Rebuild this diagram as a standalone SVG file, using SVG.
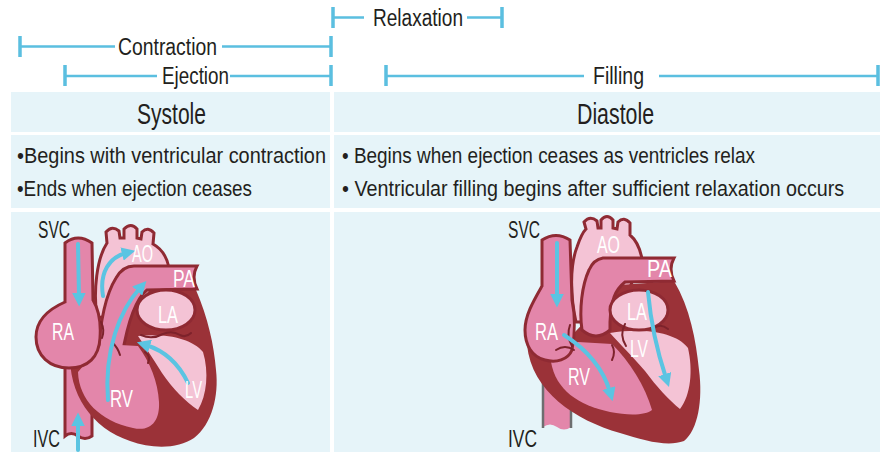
<svg xmlns="http://www.w3.org/2000/svg" width="892" height="460" viewBox="0 0 892 460">
<defs>
<style>
.t{font-family:"Liberation Sans Narrow","Liberation Sans",Arial,sans-serif;fill:#231f20;}
.w{font-family:"Liberation Sans Narrow","Liberation Sans",Arial,sans-serif;fill:#ffffff;font-size:23px;}
.cell{fill:#e6f4f9;}
.br{stroke:#5bbfe0;stroke-width:2.5;fill:none;}
.tk{stroke:#5bbfe0;stroke-width:3.5;fill:none;}
.dk{fill:#9b3238;}
.md{fill:#e386aa;stroke:#8f2a33;stroke-width:3;}
.lt{fill:#f4c3d5;stroke:#8f2a33;stroke-width:3;}
.v{fill:none;stroke:#7d222b;stroke-width:2;stroke-linecap:round;}
.ar{fill:none;stroke:#5bc4e2;stroke-width:4;stroke-linecap:round;marker-end:url(#ah);}
</style>
<marker id="ah" viewBox="0 0 10 10" refX="3" refY="5" markerWidth="3.4" markerHeight="3.4" orient="auto"><path d="M0,0 L10,5 L0,10 Z" fill="#5bc4e2"/></marker>
</defs>
<rect width="892" height="460" fill="#ffffff"/>

<g id="timeline">
  <g id="relaxation">
    <path class="tk" d="M333,7 V28 M502,7 V28"/>
    <path class="br" d="M333,17.5 H364 M467,17.5 H502"/>
    <text class="t" x="373" y="26" font-size="23" textLength="90" lengthAdjust="spacingAndGlyphs">Relaxation</text>
  </g>
  <g id="contraction">
    <path class="tk" d="M20,36 V57 M331,36 V57"/>
    <path class="br" d="M20,46.5 H115 M222,46.5 H331"/>
    <text class="t" x="118" y="55" font-size="23" textLength="99" lengthAdjust="spacingAndGlyphs">Contraction</text>
  </g>
  <g id="ejection">
    <path class="tk" d="M65,65 V86 M331,65 V86"/>
    <path class="br" d="M65,76 H157 M230,76 H331"/>
    <text class="t" x="162" y="84" font-size="23" textLength="67" lengthAdjust="spacingAndGlyphs">Ejection</text>
  </g>
  <g id="filling">
    <path class="tk" d="M386,65 V86 M878,65 V86"/>
    <path class="br" d="M386,76 H584 M659,76 H878"/>
    <text class="t" x="593" y="84" font-size="23" textLength="51" lengthAdjust="spacingAndGlyphs">Filling</text>
  </g>
</g>

<g id="cells">
  <rect class="cell" x="11" y="92" width="319" height="40"/>
  <rect class="cell" x="334" y="92" width="546" height="40"/>
  <rect class="cell" x="11" y="135" width="319" height="73"/>
  <rect class="cell" x="334" y="135" width="546" height="73"/>
  <rect class="cell" x="11" y="212" width="319" height="240"/>
  <rect class="cell" x="334" y="212" width="546" height="240"/>
</g>

<g id="systole-header">
  <text class="t" x="137" y="124" font-size="29" textLength="69" lengthAdjust="spacingAndGlyphs">Systole</text>
</g>
<g id="diastole-header">
  <text class="t" x="577" y="124" font-size="29" textLength="77" lengthAdjust="spacingAndGlyphs">Diastole</text>
</g>
<g id="systole-text">
  <text class="t" x="17" y="163" font-size="22" textLength="309" lengthAdjust="spacingAndGlyphs">•Begins with ventricular contraction</text>
  <text class="t" x="17" y="196" font-size="22" textLength="235" lengthAdjust="spacingAndGlyphs">•Ends when ejection ceases</text>
</g>
<g id="diastole-text">
  <text class="t" x="342" y="163" font-size="22" textLength="413" lengthAdjust="spacingAndGlyphs">• Begins when ejection ceases as ventricles relax</text>
  <text class="t" transform="translate(342,196) scale(0.9,1)" x="0" y="0" font-size="22" textLength="558" lengthAdjust="spacingAndGlyphs">• Ventricular filling begins after sufficient relaxation occurs</text>
</g>

<g id="heart-systole">
  <path class="lt" d="M97,318 C93,290 97,258 107,243 L106,232 Q112,225 119,231 L120,238 L124,238 L124,229 Q131,222 137,229 L137,238 L141,239 L142,232 Q148,226 154,233 L153,244 C162,249 167,257 169,268 L140,310 Z"/>
  <path class="md" d="M65,362 L65,436 Q71,431 78,436 Q85,441 92,436 L92,362"/>
  <path class="dk" d="M70,350 C68,395 92,428 130,441 C152,449 178,449 194,438 C212,424 219,396 216,370 C214,345 208,318 196,290 L150,290 L100,338 Z"/>
  <path fill="#f4c3d5" d="M138,336 C165,333 192,338 203,352 C209,372 207,395 198,410 C186,402 172,388 162,373 C154,360 146,348 138,336 Z"/>
  <path class="md" d="M98,356 C100,322 106,294 116,278 C120,271 126,266 134,266 L197,266 Q191,277 197,289 L147,290 C137,298 128,320 122,356 Z"/>
  <path fill="#e386aa" d="M78,372 C79,400 100,421 133,428 C150,432 160,422 159,402 C158,382 150,362 138,346 L102,344 Z"/>
  <path class="md" d="M65,243 Q78,233 92,243 L93,300 C99,310 101,324 100,338 C99,357 88,368 69,368 C50,368 36,356 36,337 C36,320 49,309 65,302 Z"/>
  <ellipse class="lt" cx="166" cy="310" rx="29" ry="20"/>
  <path class="v" d="M141,335 Q152,340 163,334 Q172,330 180,335 Q186,338 191,333"/>
  <path class="v" d="M145,352 Q151,356 148,363"/>
  <path class="v" d="M112,342 Q118,348 120,355"/>
  <path class="v" d="M101,322 Q105,330 102,338"/>
  <path class="ar" d="M78,244 L79,297"/>
  <path class="ar" d="M103,296 C99,272 110,257 126,253"/>
  <path class="ar" d="M108,400 C104,350 120,310 140,288"/>
  <path class="ar" d="M188,383 C178,362 162,350 146,345"/>
  <path class="ar" d="M78,450 L78,422"/>
  <text class="w" x="132" y="262" textLength="21" lengthAdjust="spacingAndGlyphs">AO</text>
  <text class="w" x="173" y="287" textLength="22" lengthAdjust="spacingAndGlyphs">PA</text>
  <text class="w" x="158" y="323" textLength="20" lengthAdjust="spacingAndGlyphs">LA</text>
  <text class="w" x="52" y="340" textLength="22" lengthAdjust="spacingAndGlyphs">RA</text>
  <text class="w" x="110" y="407" textLength="23" lengthAdjust="spacingAndGlyphs">RV</text>
  <text class="w" x="185" y="398" textLength="17" lengthAdjust="spacingAndGlyphs">LV</text>
  <text class="t" x="38" y="238" font-size="23" textLength="32" lengthAdjust="spacingAndGlyphs">SVC</text>
  <text class="t" x="33" y="447" font-size="23" textLength="27" lengthAdjust="spacingAndGlyphs">IVC</text>
</g>

<g id="heart-diastole">
  <path class="lt" d="M576,322 C570,295 570,265 577,247 C580,238 583,232 586,229 L584,222 Q590,215 597,221 L598,228 L601,228 L601,220 Q607,213 613,220 L613,228 L617,229 L618,222 Q624,216 630,223 L630,235 C636,240 640,248 642,259 L615,322 Z"/>
  <path fill="#e386aa" d="M543,355 L543,427 Q550,422 557,427 Q564,432 571,427 L571,355 Z"/>
  <path d="M543,372 L543,428 M571,372 L571,428" stroke="#6d6e70" stroke-width="2.5" fill="none"/>
  <path class="dk" d="M527,345 C532,392 575,420 620,433 C645,441 668,447 684,441 C698,430 703,400 699,370 C696,340 690,308 674,281 L620,285 L575,332 Z"/>
  <path fill="#f4c3d5" d="M610,333 C640,328 675,331 688,348 C693,370 691,395 680,409 C670,401 656,386 645,371 C632,356 620,344 610,333 Z"/>
  <path fill="#e386aa" d="M551,362 C556,390 578,405 610,412 C630,416 646,415 652,410 C645,386 630,362 612,344 L578,342 Z"/>
  <path class="md" d="M582,330 C579,310 582,285 589,270 C592,263 597,259 603,258 L674,258 Q668,269 674,281 L625,282 C615,290 611,300 610,322 L610,330 Q596,342 582,330 Z"/>
  <path class="md" d="M542,240 Q556,231 570,240 L572,300 C575,315 575,335 572,350 C568,360 556,363 545,360 C532,357 525,345 525,330 C525,315 534,300 542,286 Z"/>
  <ellipse class="lt" cx="639" cy="310" rx="29" ry="20"/>
  <path class="v" d="M570,325 Q566,336 572,346"/>
  <path class="v" d="M556,350 Q565,344 574,350"/>
  <path class="v" d="M625,324 Q619,335 626,346"/>
  <path class="v" d="M654,328 Q661,323 668,329"/>
  <path class="v" d="M612,345 Q616,352 612,360"/>
  <path class="ar" d="M557,243 L557,298"/>
  <path class="ar" d="M564,335 C586,349 603,368 610,392"/>
  <path class="ar" d="M648,292 C651,325 658,354 666,378"/>
  <text class="w" x="597" y="253" textLength="23" lengthAdjust="spacingAndGlyphs">AO</text>
  <text class="w" x="647" y="277" textLength="25" lengthAdjust="spacingAndGlyphs">PA</text>
  <text class="w" x="627" y="320" textLength="20" lengthAdjust="spacingAndGlyphs">LA</text>
  <text class="w" x="630" y="357" textLength="18" lengthAdjust="spacingAndGlyphs">LV</text>
  <text class="w" x="535" y="340" textLength="23" lengthAdjust="spacingAndGlyphs">RA</text>
  <text class="w" x="568" y="385" textLength="22" lengthAdjust="spacingAndGlyphs">RV</text>
  <text class="t" x="508" y="238" font-size="23" textLength="32" lengthAdjust="spacingAndGlyphs">SVC</text>
  <text class="t" x="508" y="447" font-size="23" textLength="29" lengthAdjust="spacingAndGlyphs">IVC</text>
</g>
</svg>
